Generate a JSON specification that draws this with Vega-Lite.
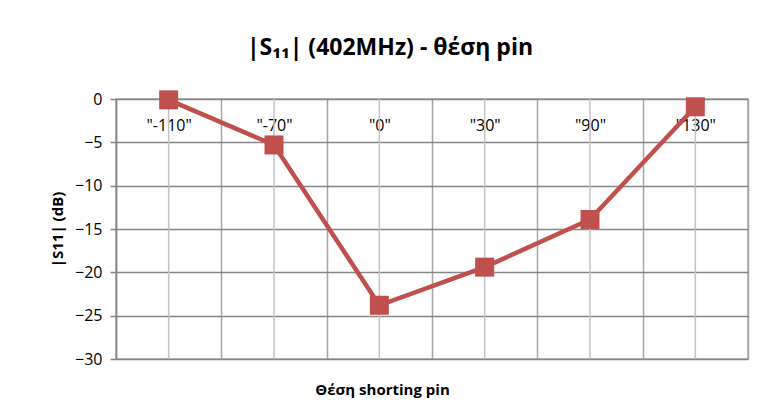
{
  "$schema": "https://vega.github.io/schema/vega-lite/v6.json",
  "autosize": {"type": "none"},
  "width": 632,
  "height": 260,
  "padding": {"left": 116, "top": 99, "right": 16, "bottom": 53},
  "background": "white",
  "title": {
    "text": "|S₁₁| (402MHz) - θέση pin",
    "font": "Open Sans",
    "fontSize": 23,
    "fontWeight": "bold",
    "color": "#000000",
    "anchor": "middle",
    "dx": -42,
    "offset": 30
  },
  "data": {
    "values": [
      {"pin": "\"-110\"", "s11": -0.1},
      {"pin": "\"-70\"", "s11": -5.3},
      {"pin": "\"0\"", "s11": -23.8},
      {"pin": "\"30\"", "s11": -19.4},
      {"pin": "\"90\"", "s11": -13.9},
      {"pin": "\"130\"", "s11": -0.9}
    ]
  },
  "encoding": {
    "x": {
      "field": "pin",
      "type": "nominal",
      "sort": null,
      "scale": {"type": "band", "paddingInner": 0, "paddingOuter": 0},
      "axis": {
        "orient": "bottom",
        "offset": -260,
        "title": "Θέση shorting pin",
        "titleFont": "Open Sans",
        "titleFontSize": 15,
        "titleFontWeight": "bold",
        "titleColor": "#000000",
        "titleX": 266,
        "titleY": 290,
        "titleAnchor": "middle",
        "titleBaseline": "middle",
        "labelFont": "Open Sans",
        "labelFontSize": 16,
        "labelColor": "#000000",
        "labelAngle": 0,
        "labelPadding": 26,
        "labelBaseline": "middle",
        "ticks": false,
        "domain": false,
        "grid": true,
        "tickBand": "extent",
        "gridColor": "#a6a6a6",
        "gridWidth": 1.5,
        "gridOpacity": 1
      }
    }
  },
  "layer": [
    {
      "mark": {"type": "rule", "color": "#c4c4c4", "strokeWidth": 1.5},
      "encoding": {}
    },
    {
      "mark": {"type": "line", "color": "#C0504D", "strokeWidth": 4.5},
      "encoding": {
        "y": {
          "field": "s11",
          "type": "quantitative",
          "scale": {"domain": [-30, 0], "nice": false, "zero": false},
          "axis": {
            "values": [0, -5, -10, -15, -20, -25, -30],
            "title": "|S11|  (dB)",
            "titleFont": "Open Sans",
            "titleFontSize": 15,
            "titleFontWeight": "bold",
            "titleColor": "#000000",
            "titleX": -59,
            "titleY": 130,
            "titleAngle": -90,
            "titleAnchor": "middle",
            "titleBaseline": "middle",
            "labelFont": "Open Sans",
            "labelFontSize": 16,
            "labelColor": "#000000",
            "labelPadding": 8,
            "tickSize": 6,
            "tickColor": "#868686",
            "tickWidth": 1.5,
            "domainColor": "#868686",
            "domainWidth": 1.5,
            "grid": true,
            "gridColor": "#868686",
            "gridWidth": 1.5,
            "gridOpacity": 1
          }
        }
      }
    },
    {
      "mark": {"type": "point", "shape": "square", "filled": true, "opacity": 1, "color": "#C0504D", "size": 361},
      "encoding": {
        "y": {"field": "s11", "type": "quantitative"}
      }
    }
  ],
  "config": {
    "view": {"stroke": "#a6a6a6", "strokeWidth": 1.5}
  }
}
